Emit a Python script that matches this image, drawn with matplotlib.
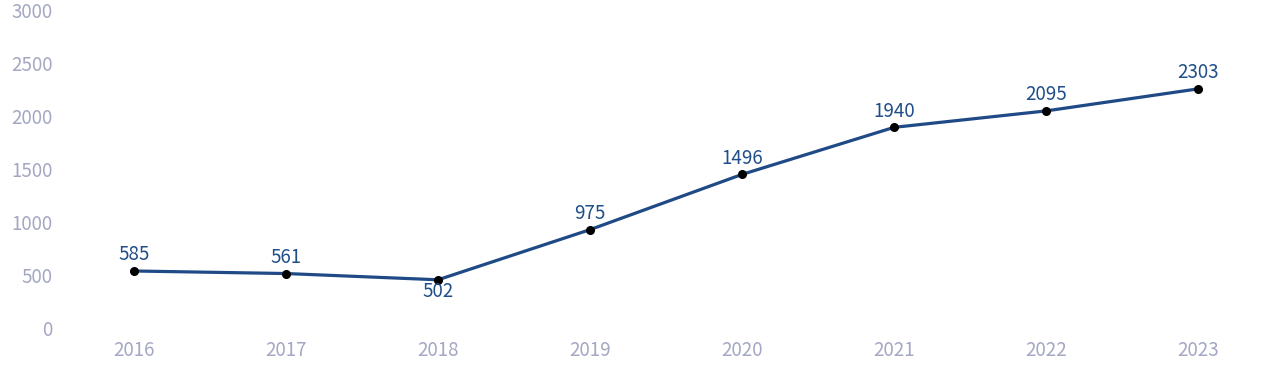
import matplotlib
matplotlib.use("Agg")
import matplotlib.pyplot as plt
import matplotlib.transforms as mtransforms

years = ["2016", "2017", "2018", "2019", "2020", "2021", "2022", "2023"]
values = [585, 561, 502, 975, 1496, 1940, 2095, 2303]
label_below = [False, False, True, False, False, False, False, False]
yticks = [0, 500, 1000, 1500, 2000, 2500, 3000]

plt.rcParams['font.family'] = ['Noto Sans CJK SC', 'DejaVu Sans']

fig = plt.figure(figsize=(12.8, 3.82), dpi=100)
ax = fig.add_axes([58/1280, 49/382, (1274-58)/1280, (333-15)/382])

x = list(range(len(years)))
line_color = "#1f4a86"
ax.plot(x, values, color=line_color, linewidth=2.3, zorder=2)
ax.plot(x, values, linestyle="none", marker="o", markersize=5.5, color="black", zorder=3)

for xi, v, below in zip(x, values, label_below):
    if below:
        ax.annotate(str(v), (xi, v), xytext=(0, -1), textcoords="offset points",
                    ha="center", va="top", fontsize=13.5, color="#1f4e89")
    else:
        ax.annotate(str(v), (xi, v), xytext=(0, 4), textcoords="offset points",
                    ha="center", va="bottom", fontsize=13.5, color="#1f4e89")

ax.set_xlim(-0.5, len(years) - 0.5)
ax.set_ylim(0, 3000)
ax.set_xticks(x)
ax.set_xticklabels(years)
ax.set_yticks(yticks)
ax.set_yticklabels([str(t) for t in yticks])

tick_color = "#a3a7c2"
ax.tick_params(axis="both", length=0, labelsize=13.5, labelcolor=tick_color)
ax.tick_params(axis="y", pad=4)
ax.tick_params(axis="x", pad=5)

offset = mtransforms.ScaledTranslation(0, 5/100, fig.dpi_scale_trans)
for lbl in ax.get_yticklabels():
    lbl.set_transform(lbl.get_transform() + offset)

for s in ax.spines.values():
    s.set_visible(False)

fig.savefig("out.png", dpi=100)
